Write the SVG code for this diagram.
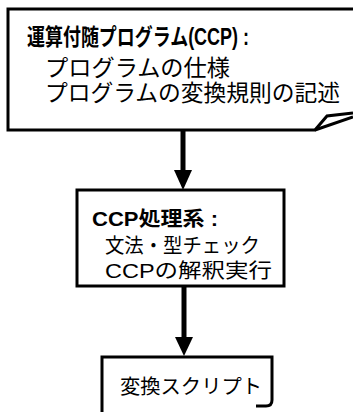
<svg xmlns="http://www.w3.org/2000/svg" width="353" height="412" viewBox="0 0 353 412">
<defs>
<style>
.box{fill:#fff;stroke:#000;stroke-width:3;stroke-linejoin:miter}
.ln{fill:none;stroke:#000;stroke-width:3}
.t{font-family:"Liberation Sans","Noto Sans CJK JP",sans-serif;fill:#000}
.b{font-weight:bold}
.shaft{stroke:#000;stroke-width:5}
.head{fill:#000}
</style>
</defs>
<rect width="353" height="412" fill="#fff"/>
<g id="node-ccp-spec">
<path d="M8,9 H353 V130 H8 Z" fill="#fff"/>
<path class="ln" d="M353,9 H8 V130 H315 L327,116 L353,113"/>
<path class="ln" d="M315,130 L353,117" stroke-width="2.5"/>
<text class="t b" x="27" y="45" font-size="23" textLength="222" lengthAdjust="spacingAndGlyphs">運算付随プログラム(CCP) :</text>
<text class="t" x="45" y="76" font-size="22.5" textLength="185" lengthAdjust="spacingAndGlyphs">プログラムの仕様</text>
<text class="t" x="45" y="101" font-size="22.5" textLength="295" lengthAdjust="spacingAndGlyphs">プログラムの変換規則の記述</text>
</g>
<g id="node-ccp-processor">
<rect class="box" x="77" y="190" width="207" height="96"/>
<text class="t b" x="92" y="226" font-size="20" textLength="126" lengthAdjust="spacingAndGlyphs">CCP処理系 :</text>
<text class="t" x="105" y="253" font-size="20" textLength="155" lengthAdjust="spacingAndGlyphs">文法・型チェック</text>
<text class="t" x="105" y="278" font-size="20" textLength="167" lengthAdjust="spacingAndGlyphs">CCPの解釈実行</text>
</g>
<g id="node-script">
<path class="box" d="M102,416 V357 H272 V400 Q272,406 266,406 H256 M102,416"/>
<text class="t" x="120" y="394" font-size="20" textLength="142" lengthAdjust="spacingAndGlyphs">変換スクリプト</text>
</g>
<g id="connectors">
<line class="shaft" x1="183" y1="131" x2="183" y2="172"/>
<polygon class="head" points="174,170 192,170 183,190"/>
<line class="shaft" x1="184" y1="287" x2="184" y2="339"/>
<polygon class="head" points="175,337 193,337 184,356"/>
</g>
</svg>
